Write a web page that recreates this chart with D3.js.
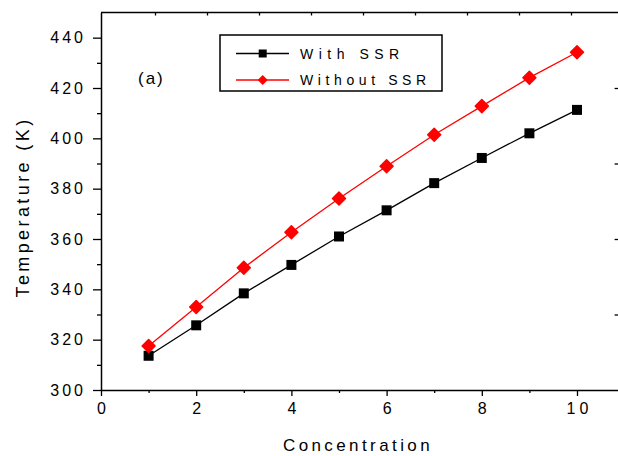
<!DOCTYPE html>
<html>
<head>
<meta charset="utf-8">
<script src="https://cdn.jsdelivr.net/npm/d3@7"></script>
<style>
  html, body { margin: 0; padding: 0; background: #fff; }
  svg { display: block; }
  text { font-family: "Liberation Sans", Arial, sans-serif; fill: #000; }
</style>
</head>
<body>
<svg id="chart" width="618" height="456"></svg>
<script>
// Concentration values (x) and temperatures (K) for the two cases
const concentration = [1, 2, 3, 4, 5, 6, 7, 8, 9, 10];
const withSSR    = [313.6, 325.7, 338.4, 349.7, 361.0, 371.4, 382.2, 392.2, 402.0, 411.3];
const withoutSSR = [317.5, 333.0, 348.6, 362.7, 376.1, 388.9, 401.4, 412.8, 424.1, 434.2];
const seriesNames = ["With SSR", "Without SSR"];
const seriesColors = ["#000000", "#ff0000"];
const xTickLabels = [0, 2, 4, 6, 8, 10];
const yTickLabels = [300, 320, 340, 360, 380, 400, 420, 440];

const svg = d3.select("#chart");

// Plot frame
const plotLeft = 101, plotRight = 624.6, plotTop = 12.5, plotBottom = 390;

const x = d3.scaleLinear().domain([0, 11]).range([plotLeft, plotRight]);
const y = d3.scaleLinear().domain([300, 450]).range([plotBottom, plotTop]);
// Secondary scales that only carry tick marks on the top and right edges
const xTop = d3.scaleLinear().domain([0, 10]).range([103, 623]);
const yRight = d3.scaleLinear().domain([0, 5]).range([plotBottom, plotTop]);

const tickFont = 16;

// Bottom axis: major ticks with labels, minor ticks in between
const xAxis = d3.axisBottom(x).tickValues(xTickLabels).tickSize(6).tickPadding(7)
  .tickFormat(d3.format("d")).tickSizeOuter(0);
const gx = svg.append("g").attr("transform", `translate(0,${plotBottom})`).call(xAxis);
const xMinor = d3.axisBottom(x).tickValues([1, 3, 5, 7, 9, 11]).tickSize(3).tickFormat("").tickSizeOuter(0);
svg.append("g").attr("transform", `translate(0,${plotBottom})`).call(xMinor).select(".domain").remove();

// Left axis
const yAxis = d3.axisLeft(y).tickValues(yTickLabels).tickSize(8).tickPadding(10)
  .tickFormat(d3.format("d")).tickSizeOuter(0);
const gy = svg.append("g").attr("transform", `translate(${plotLeft},0)`).call(yAxis);
const yMinor = d3.axisLeft(y).tickValues(d3.range(310, 440, 20)).tickSize(4).tickFormat("").tickSizeOuter(0);
svg.append("g").attr("transform", `translate(${plotLeft},0)`).call(yMinor).select(".domain").remove();

// Top axis (inward ticks)
const topAxis = d3.axisBottom(xTop).tickValues(d3.range(1, 10)).tickSize(3).tickFormat("").tickSizeOuter(0);
const gt = svg.append("g").attr("transform", `translate(0,${plotTop})`).call(topAxis);
gt.select(".domain").remove();
svg.append("line").attr("x1", plotLeft).attr("x2", plotRight).attr("y1", plotTop).attr("y2", plotTop)
  .attr("stroke", "#000").attr("stroke-width", 1.5);

// Right axis (inward ticks)
const rightAxis = d3.axisLeft(yRight).tickValues([1, 2, 3, 4]).tickSize(10).tickFormat("").tickSizeOuter(0);
svg.append("g").attr("transform", `translate(${plotRight},0)`).call(rightAxis);

svg.selectAll(".domain").attr("stroke-width", 1.5);
svg.selectAll(".tick line").attr("stroke-width", 1.3);

gx.selectAll(".tick text").attr("font-size", tickFont).style("letter-spacing", "4px")
  .attr("dx", 2);
gy.selectAll(".tick text").attr("font-size", tickFont).style("letter-spacing", "3px")
  .attr("dx", 3);

// Axis titles
svg.append("text").attr("x", 358).attr("y", 451)
  .attr("text-anchor", "middle").attr("font-size", 17).style("letter-spacing", "3.4px")
  .text("Concentration");
svg.append("text").attr("transform", "translate(29,207) rotate(-90)")
  .attr("text-anchor", "middle").attr("font-size", 18).style("letter-spacing", "3.4px")
  .text("Temperature (K)");

// Panel tag
svg.append("text").attr("x", 138).attr("y", 84).attr("font-size", 17)
  .style("letter-spacing", "2px").text("(a)");

// Series lines and markers
const lineGen = d3.line().x((d, i) => x(concentration[i])).y(d => y(d));

function diamondPath(r) {
  return `M0,${-r}L${r},0L0,${r}L${-r},0Z`;
}

const series = [withSSR, withoutSSR];
series.forEach((vals, k) => {
  svg.append("path").datum(vals).attr("d", lineGen)
    .attr("fill", "none").attr("stroke", seriesColors[k]).attr("stroke-width", 1.3);
});

svg.append("g").selectAll("path").data(withSSR).join("path")
  .attr("transform", (d, i) => `translate(${x(concentration[i])},${y(d)})`)
  .attr("d", d3.symbol(d3.symbolSquare, 100)())
  .attr("fill", seriesColors[0]);

svg.append("g").selectAll("path").data(withoutSSR).join("path")
  .attr("transform", (d, i) => `translate(${x(concentration[i])},${y(d)})`)
  .attr("d", diamondPath(6.5))
  .attr("fill", seriesColors[1]).attr("stroke", seriesColors[1])
  .attr("stroke-width", 1.5).attr("stroke-linejoin", "round");

// Legend
const legend = svg.append("g");
legend.append("rect").attr("x", 220).attr("y", 35).attr("width", 222).attr("height", 56)
  .attr("fill", "#fff").attr("stroke", "#000").attr("stroke-width", 1.5);
const rowsY = [53.5, 80];
seriesNames.forEach((name, k) => {
  const g = legend.append("g");
  g.append("line").attr("x1", 236).attr("x2", 289).attr("y1", rowsY[k]).attr("y2", rowsY[k])
    .attr("stroke", seriesColors[k]).attr("stroke-width", 1.3);
  if (k === 0) {
    g.append("path").attr("transform", `translate(262.7,${rowsY[k]})`)
      .attr("d", d3.symbol(d3.symbolSquare, 64)()).attr("fill", seriesColors[k]);
  } else {
    g.append("path").attr("transform", `translate(262.7,${rowsY[k]})`)
      .attr("d", diamondPath(5)).attr("fill", seriesColors[k]);
  }
  g.append("text").attr("x", 300).attr("y", rowsY[k] + 5).attr("font-size", 14)
    .style("letter-spacing", k === 0 ? "5.5px" : "4.6px").text(name);
});
</script>
</body>
</html>
